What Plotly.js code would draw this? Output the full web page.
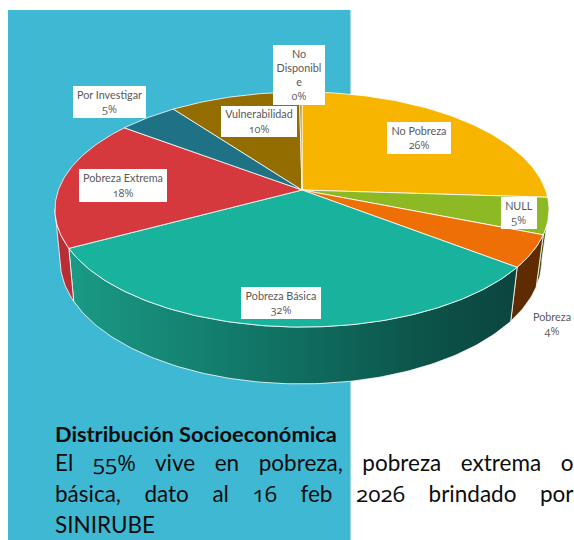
<!DOCTYPE html>
<html>
<head>
<meta charset="utf-8">
<script src="https://cdn.plot.ly/plotly-3.0.1.min.js"></script>
<style>
html,body{margin:0;padding:0;background:#fff;}
#chart{width:574px;height:540px;}
.annotation-text, .annotation-text tspan{font-feature-settings:"onum" 1;font-variant-numeric:oldstyle-nums;}
</style>
</head>
<body>
<div id="chart"></div>
<script>
// Data (share of total, starting at 12 o'clock, clockwise)
const categories = ["No Pobreza","NULL","Pobreza","Pobreza Básica","Pobreza Extrema","Por Investigar","Vulnerabilidad","No Disponible"];
const labelLines = ["No Pobreza","NULL","Pobreza","Pobreza Básica","Pobreza Extrema","Por Investigar","Vulnerabilidad","No<br>Disponibl<br>e"];
const shareValues = [26, 5, 4.4, 31.8, 18, 4.6, 10, 0.2];

// Styles
const faceColors = ["#F8B500","#8DB925","#EE6F06","#19B29C","#D5393E","#1F7186","#936D00","#A5802A"];
const wallColors = ["#8a6500","#3E5710","#5E2C00",null,"#B72F34","#114050","#524000","#524000"];
const teal = [[0,"#1A9A86"],[0.55,"#0F6A5D"],[0.85,"#0C4F46"],[1,"#0B463F"]];

// Label placement: centre x, centre y, width, height, boxed
const labelPlace = [
  [419,137.5,64,32,true],
  [519,213,36,32,true],
  [552,324,44,32,false],
  [280.5,302.5,80,32,true],
  [123,185.5,88,33,true],
  [109.5,102,73,32,true],
  [258.5,121,76,31,true],
  [299,75,52,60,true]
];

// Projection of the tilted disc
const cx = 302, cy = 190, A = 243.6, B = 114.3, K = 0.166;
const lowCx = 301, lowCy = 240, lowS = 0.975, lowT = 1.05;
function pt(frac, low){
  const t = 2*Math.PI*frac, u = Math.sin(t), v = Math.cos(t), w = 1 + K*v;
  const px = A*u/w, py = -B*v/w;
  return low ? [lowCx + lowS*px, lowCy + lowT*py] : [cx + px, cy + py];
}
function arc(f0, f1, low){
  const n = Math.max(2, Math.ceil((f1-f0)*360)), out = [];
  for(let i=0;i<=n;i++) out.push(pt(f0 + (f1-f0)*i/n, low));
  return out;
}
const frontStart = Math.acos(-K)/(2*Math.PI), frontEnd = 1 - frontStart;
const edge = "rgba(255,255,255,0.8)";
const total = shareValues.reduce((a,b)=>a+b,0);
const wallTraces = [], faceTraces = [];
let acc = 0;
categories.forEach((name,i)=>{
  const f0 = acc/total; acc += shareValues[i]; const f1 = acc/total;
  const a0 = Math.max(f0, frontStart), a1 = Math.min(f1, frontEnd);
  if(a1 > a0){
    const poly = arc(a0,a1,false).concat(arc(a0,a1,true).reverse());
    poly.push(poly[0]);
    const tr = {type:"scatter",mode:"lines",name:name+" lateral",x:poly.map(p=>p[0]),y:poly.map(p=>p[1]),
      fill:"toself",line:{color:edge,width:1},hoverinfo:"skip",showlegend:false};
    if(wallColors[i]) tr.fillcolor = wallColors[i];
    else tr.fillgradient = {type:"horizontal",colorscale:teal,start:70,stop:515};
    wallTraces.push(tr);
  }
  const face = [[cx,cy]].concat(arc(f0,f1,false)); face.push([cx,cy]);
  faceTraces.push({type:"scatter",mode:"lines",name:name,x:face.map(p=>p[0]),y:face.map(p=>p[1]),
    fill:"toself",fillcolor:faceColors[i],line:{color:edge,width:1},hoverinfo:"skip",showlegend:false});
});

// Old-style digits come from Open Sans; the letters stay in Lato
const oldDigits = s => s.replace(/[0-9]+%?/g, m => "<span style=\"font-family:'Open Sans'\">"+m+"</span>");
const labelFont = {family:"Lato, 'Open Sans', sans-serif",size:10.8,color:"#595959"};
const annotations = categories.map((name,i)=>{
  const p = labelPlace[i];
  return {xref:"x",yref:"y",x:p[0],y:p[1],xanchor:"center",yanchor:"middle",showarrow:false,
    text:labelLines[i]+"<br>"+oldDigits(Math.round(shareValues[i])+"%"),font:labelFont,align:"center",
    width:p[2],height:p[3],bgcolor:p[4]?"#FFFFFF":"rgba(0,0,0,0)",borderpad:0,borderwidth:0};
});

// Caption
const captionTitle = "Distribución Socioeconómica";
const captionLines = ["El 55% vive en pobreza, pobreza extrema o","básica, dato al 16 feb 2026 brindado por","SINIRUBE"];
const captionY = [462,493,524], captionX = 52.5, captionStart = 55, captionRight = 573.5;
annotations.push({xref:"x",yref:"y",x:captionX,y:433,xanchor:"left",yanchor:"middle",align:"left",showarrow:false,
  text:"<b>"+captionTitle+"</b>",font:{family:"Lato, sans-serif",size:21.8,color:"#0d0d0d"}});
captionLines.forEach((t,i)=>annotations.push({xref:"x",yref:"y",x:captionX,y:captionY[i],xanchor:"left",yanchor:"middle",align:"left",showarrow:false,
  text:oldDigits(t),font:{family:"Lato, sans-serif",size:22.5,color:"#0d0d0d"}}));

const layout = {
  width:574,height:540,margin:{l:0,r:0,t:0,b:0},paper_bgcolor:"#fff",plot_bgcolor:"rgba(0,0,0,0)",
  xaxis:{range:[0,574],visible:false,fixedrange:true},
  yaxis:{range:[540,0],visible:false,fixedrange:true},
  showlegend:false,hovermode:false,
  shapes:[{type:"rect",layer:"below",xref:"x",yref:"y",x0:8,x1:350.5,y0:10,y1:540,fillcolor:"#3FB8D3",line:{width:0}}],
  annotations:annotations
};
Plotly.newPlot("chart",wallTraces.concat(faceTraces),layout,{displayModeBar:false,staticPlot:true}).then(()=>{
  // Justify the two full caption lines between the text margins
  document.querySelectorAll(".annotation-text").forEach(el=>{
    const s = el.textContent;
    if(s!==captionLines[0] && s!==captionLines[1]) return;
    const gaps = s.split(" ").length-1;
    const extra = (captionRight-captionStart-el.getComputedTextLength())/gaps;
    el.style.wordSpacing = extra+"px";
  });
});
</script>
</body>
</html>
